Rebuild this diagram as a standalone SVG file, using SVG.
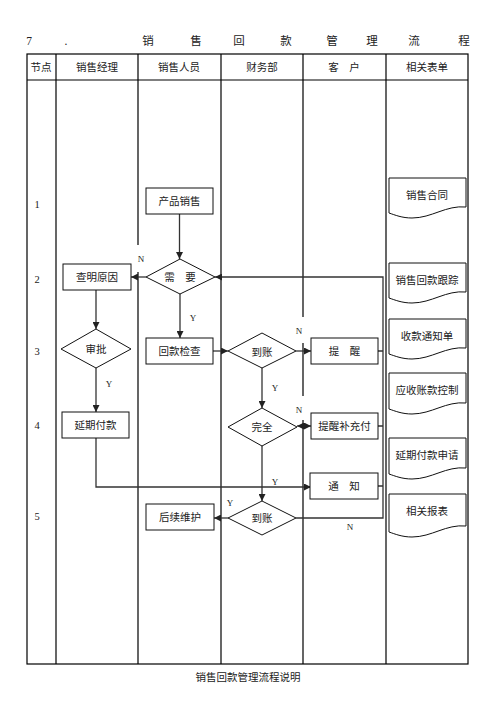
<svg xmlns="http://www.w3.org/2000/svg" width="496" height="702" viewBox="0 0 496 702">
<defs>
<marker id="ah" viewBox="0 0 10 10" refX="10" refY="5" markerWidth="7" markerHeight="7" markerUnits="userSpaceOnUse" orient="auto-start-reverse"><path d="M0,0 L10,5 L0,10 Z" fill="#222"/></marker>
<style>
text{font-family:"Liberation Serif","Noto Sans CJK SC",serif;fill:#222;font-size:10.5px;text-anchor:middle}
.t{font-size:11.5px}
.lb{font-size:9px}
.tb{stroke:#000;stroke-width:1.2;fill:none}
.n{fill:#fff;stroke:#111;stroke-width:1}
.c{stroke:#333;stroke-width:1.3;fill:none}
.a{marker-end:url(#ah)}
</style>
</defs>
<rect width="496" height="702" fill="#fff"/>
<g id="title">
<text class="t" x="29" y="45">7</text><text class="t" x="66" y="45">.</text>
<text class="t" x="148" y="45">销</text><text class="t" x="196" y="45">售</text><text class="t" x="239" y="45">回</text><text class="t" x="286" y="45">款</text><text class="t" x="332" y="45">管</text><text class="t" x="372" y="45">理</text><text class="t" x="414" y="45">流</text><text class="t" x="464" y="45">程</text>
</g>
<g id="table">
<rect class="tb" x="27" y="54" width="441" height="610"/>
<line class="tb" x1="27" y1="80" x2="468" y2="80"/>
<line class="tb" x1="56" y1="54" x2="56" y2="664"/>
<path class="tb" d="M138,54 V245 M138,272 V664"/>
<line class="tb" x1="221" y1="54" x2="221" y2="664"/>
<path class="tb" d="M303,54 V317 M303,343 V396 M303,420 V664"/>
<line class="tb" x1="386" y1="54" x2="386" y2="664"/>
<text x="41" y="71">节点</text><text x="97" y="71">销售经理</text><text x="179" y="71">销售人员</text><text x="262" y="71">财务部</text><text x="344" y="71">客　户</text><text x="427" y="71">相关表单</text>
<text x="37" y="208">1</text><text x="37" y="283">2</text><text x="37" y="355">3</text><text x="37" y="429">4</text><text x="37" y="520">5</text>
</g>
<g id="connectors">
<line class="c a" x1="179.5" y1="214" x2="179.5" y2="259"/>
<line class="c a" x1="146" y1="277" x2="131" y2="277"/>
<line class="c a" x1="96" y1="290" x2="96" y2="329"/>
<line class="c a" x1="180" y1="294" x2="180" y2="338"/>
<line class="c a" x1="96" y1="368" x2="96" y2="412"/>
<line class="c a" x1="213" y1="351" x2="228" y2="351"/>
<line class="c a" x1="296" y1="351" x2="311" y2="351"/>
<line class="c a" x1="262" y1="368" x2="262" y2="408"/>
<line class="c a" x1="297" y1="426" x2="311" y2="426" style="marker-start:url(#ah)"/>
<polyline class="c a" points="96,438 96,487 311,487"/>
<line class="c a" x1="262" y1="446" x2="262" y2="501"/>
<line class="c a" x1="228" y1="518" x2="214" y2="518"/>
<polyline class="c a" points="296,518 383,518 383,277 215,277"/>
<path class="c" d="M378,351 H383 M378,426 H383 M378,486 H383"/>
<text class="lb" x="141" y="262">N</text>
<text class="lb" x="193" y="321">Y</text>
<text class="lb" x="299" y="334">N</text>
<text class="lb" x="109" y="387">Y</text>
<text class="lb" x="275" y="391">Y</text>
<text class="lb" x="299" y="413">N</text>
<text class="lb" x="275" y="485">Y</text>
<text class="lb" x="230" y="506">Y</text>
<text class="lb" x="350" y="530">N</text>
</g>
<g id="n_cpxs"><rect class="n" x="146" y="188" width="67" height="26"/><text x="179.5" y="205">产品销售</text></g>
<g id="n_xy"><polygon class="n" points="180,259 215,277 180,294 146,277"/><text x="180" y="281">需　要</text></g>
<g id="n_cmyy"><rect class="n" x="63" y="264" width="68" height="26"/><text x="97" y="281">查明原因</text></g>
<g id="n_sp"><polygon class="n" points="96,329 131,349 96,368 61,349"/><text x="96" y="353">审批</text></g>
<g id="n_hkjc"><rect class="n" x="146" y="338" width="67" height="26"/><text x="179.5" y="355">回款检查</text></g>
<g id="n_dz1"><polygon class="n" points="262,333 296,351 262,368 228,351"/><text x="262" y="356">到账</text></g>
<g id="n_tx"><rect class="n" x="311" y="338" width="67" height="26"/><text x="344.5" y="355">提　醒</text></g>
<g id="n_yqfk"><rect class="n" x="62" y="412" width="67" height="26"/><text x="95.5" y="429">延期付款</text></g>
<g id="n_wq"><polygon class="n" points="262,408 297,427 262,446 228,427"/><text x="262" y="431">完全</text></g>
<g id="n_txbcf"><rect class="n" x="311" y="413" width="67" height="26"/><text x="344.5" y="430">提醒补充付</text></g>
<g id="n_tz"><rect class="n" x="310" y="473" width="68" height="26"/><text x="344" y="490">通　知</text></g>
<g id="n_dz2"><polygon class="n" points="262,501 296,518 262,535 228,518"/><text x="262" y="522">到账</text></g>
<g id="n_hxwh"><rect class="n" x="146" y="504" width="68" height="26"/><text x="180" y="521">后续维护</text></g>
<g id="d1"><path class="n" d="M389,178 H466 V207 C446,205 432,218 412,218 C402,218 395,215 389,213 Z"/><text x="427" y="199">销售合同</text></g>
<g id="d2"><path class="n" d="M389,263 H466 V292 C446,290 432,303 412,303 C402,303 395,300 389,298 Z"/><text x="427" y="284">销售回款跟踪</text></g>
<g id="d3"><path class="n" d="M389,319 H466 V348 C446,346 432,359 412,359 C402,359 395,356 389,354 Z"/><text x="427" y="340">收款通知单</text></g>
<g id="d4"><path class="n" d="M389,373 H466 V403 C446,401 432,414 412,414 C402,414 395,411 389,409 Z"/><text x="427" y="394">应收账款控制</text></g>
<g id="d5"><path class="n" d="M389,438 H466 V468 C446,466 432,479 412,479 C402,479 395,476 389,474 Z"/><text x="427" y="459">延期付款申请</text></g>
<g id="d6"><path class="n" d="M389,494 H466 V526 C446,524 432,537 412,537 C402,537 395,534 389,532 Z"/><text x="427" y="515">相关报表</text></g>
<text x="248" y="681">销售回款管理流程说明</text>
</svg>
